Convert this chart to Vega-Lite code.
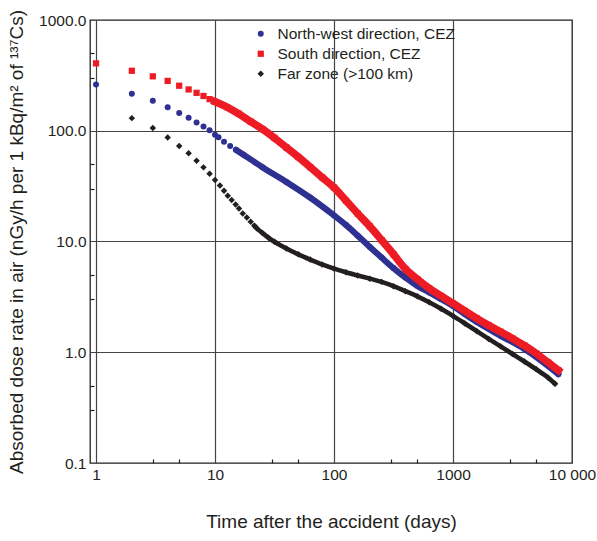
{
  "$schema": "https://vega.github.io/schema/vega-lite/v6.json",
  "width": 482,
  "height": 443,
  "autosize": {"type": "none"},
  "padding": {"left": 90, "top": 20, "right": 25, "bottom": 78},
  "background": "white",
  "config": {
    "font": "Liberation Sans",
    "view": {"stroke": "#231f20", "strokeWidth": 1.3},
    "axis": {
      "labelFont": "Liberation Sans",
      "titleFont": "Liberation Sans",
      "labelColor": "#231f20",
      "titleColor": "#231f20",
      "titleFontWeight": "normal",
      "labelFontSize": 15.5,
      "titleFontSize": 19,
      "domain": false,
      "gridColor": "#444444",
      "gridWidth": 1.2,
      "tickColor": "#231f20",
      "tickWidth": 1.2,
      "labelOverlap": false,
      "labelFlush": false
    }
  },
  "data": {
    "values": [
      {"series": "North-west direction, CEZ", "day": 1, "rate": 262},
      {"series": "North-west direction, CEZ", "day": 2, "rate": 216},
      {"series": "North-west direction, CEZ", "day": 3, "rate": 187},
      {"series": "North-west direction, CEZ", "day": 4, "rate": 163},
      {"series": "North-west direction, CEZ", "day": 5, "rate": 145},
      {"series": "North-west direction, CEZ", "day": 6, "rate": 131},
      {"series": "North-west direction, CEZ", "day": 7, "rate": 119},
      {"series": "North-west direction, CEZ", "day": 8, "rate": 109},
      {"series": "North-west direction, CEZ", "day": 9, "rate": 101},
      {"series": "North-west direction, CEZ", "day": 10, "rate": 92},
      {"series": "North-west direction, CEZ", "day": 10.7, "rate": 87.2},
      {"series": "North-west direction, CEZ", "day": 11.9, "rate": 79.6},
      {"series": "North-west direction, CEZ", "day": 13.4, "rate": 72.8},
      {"series": "North-west direction, CEZ", "day": 15, "rate": 67.2},
      {"series": "North-west direction, CEZ", "day": 17.3, "rate": 61.0},
      {"series": "North-west direction, CEZ", "day": 25.1, "rate": 46.8},
      {"series": "North-west direction, CEZ", "day": 39.8, "rate": 34.5},
      {"series": "North-west direction, CEZ", "day": 63.1, "rate": 24.9},
      {"series": "North-west direction, CEZ", "day": 100, "rate": 17.2},
      {"series": "North-west direction, CEZ", "day": 126, "rate": 14.1},
      {"series": "North-west direction, CEZ", "day": 158, "rate": 11.3},
      {"series": "North-west direction, CEZ", "day": 200, "rate": 8.93},
      {"series": "North-west direction, CEZ", "day": 251, "rate": 7.16},
      {"series": "North-west direction, CEZ", "day": 316, "rate": 5.75},
      {"series": "North-west direction, CEZ", "day": 398, "rate": 4.72},
      {"series": "North-west direction, CEZ", "day": 501, "rate": 3.98},
      {"series": "North-west direction, CEZ", "day": 631, "rate": 3.47},
      {"series": "North-west direction, CEZ", "day": 794, "rate": 3.02},
      {"series": "North-west direction, CEZ", "day": 1000, "rate": 2.62},
      {"series": "North-west direction, CEZ", "day": 1259, "rate": 2.21},
      {"series": "North-west direction, CEZ", "day": 1585, "rate": 1.88},
      {"series": "North-west direction, CEZ", "day": 2512, "rate": 1.41},
      {"series": "North-west direction, CEZ", "day": 3981, "rate": 1.07},
      {"series": "North-west direction, CEZ", "day": 7674, "rate": 0.634},
      {"series": "South direction, CEZ", "day": 1, "rate": 406},
      {"series": "South direction, CEZ", "day": 2, "rate": 348},
      {"series": "South direction, CEZ", "day": 3, "rate": 310},
      {"series": "South direction, CEZ", "day": 4, "rate": 282},
      {"series": "South direction, CEZ", "day": 5, "rate": 255},
      {"series": "South direction, CEZ", "day": 6, "rate": 236},
      {"series": "South direction, CEZ", "day": 7, "rate": 220},
      {"series": "South direction, CEZ", "day": 8, "rate": 206},
      {"series": "South direction, CEZ", "day": 9, "rate": 193},
      {"series": "South direction, CEZ", "day": 10, "rate": 183},
      {"series": "South direction, CEZ", "day": 12.6, "rate": 163.7},
      {"series": "South direction, CEZ", "day": 15.8, "rate": 142.6},
      {"series": "South direction, CEZ", "day": 20, "rate": 120.5},
      {"series": "South direction, CEZ", "day": 25.1, "rate": 103.3},
      {"series": "South direction, CEZ", "day": 31.6, "rate": 86.1},
      {"series": "South direction, CEZ", "day": 39.8, "rate": 70.6},
      {"series": "South direction, CEZ", "day": 50.1, "rate": 57.9},
      {"series": "South direction, CEZ", "day": 63.1, "rate": 47.0},
      {"series": "South direction, CEZ", "day": 79.4, "rate": 38.0},
      {"series": "South direction, CEZ", "day": 100, "rate": 30.7},
      {"series": "South direction, CEZ", "day": 126, "rate": 23.4},
      {"series": "South direction, CEZ", "day": 158, "rate": 17.9},
      {"series": "South direction, CEZ", "day": 200, "rate": 13.7},
      {"series": "South direction, CEZ", "day": 251, "rate": 10.3},
      {"series": "South direction, CEZ", "day": 316, "rate": 7.67},
      {"series": "South direction, CEZ", "day": 398, "rate": 5.65},
      {"series": "South direction, CEZ", "day": 501, "rate": 4.57},
      {"series": "South direction, CEZ", "day": 631, "rate": 3.78},
      {"series": "South direction, CEZ", "day": 794, "rate": 3.23},
      {"series": "South direction, CEZ", "day": 1000, "rate": 2.76},
      {"series": "South direction, CEZ", "day": 1259, "rate": 2.36},
      {"series": "South direction, CEZ", "day": 1585, "rate": 2.02},
      {"series": "South direction, CEZ", "day": 1995, "rate": 1.75},
      {"series": "South direction, CEZ", "day": 2512, "rate": 1.53},
      {"series": "South direction, CEZ", "day": 3162, "rate": 1.33},
      {"series": "South direction, CEZ", "day": 3981, "rate": 1.15},
      {"series": "South direction, CEZ", "day": 5012, "rate": 0.975},
      {"series": "South direction, CEZ", "day": 6310, "rate": 0.807},
      {"series": "South direction, CEZ", "day": 7674, "rate": 0.689},
      {"series": "Far zone (>100 km)", "day": 2, "rate": 130},
      {"series": "Far zone (>100 km)", "day": 3, "rate": 106},
      {"series": "Far zone (>100 km)", "day": 4, "rate": 87},
      {"series": "Far zone (>100 km)", "day": 5, "rate": 73},
      {"series": "Far zone (>100 km)", "day": 6, "rate": 62.5},
      {"series": "Far zone (>100 km)", "day": 7, "rate": 53.6},
      {"series": "Far zone (>100 km)", "day": 8, "rate": 46.7},
      {"series": "Far zone (>100 km)", "day": 9, "rate": 40.9},
      {"series": "Far zone (>100 km)", "day": 10, "rate": 35.9},
      {"series": "Far zone (>100 km)", "day": 11, "rate": 32.1},
      {"series": "Far zone (>100 km)", "day": 11.9, "rate": 28.7},
      {"series": "Far zone (>100 km)", "day": 12.8, "rate": 25.9},
      {"series": "Far zone (>100 km)", "day": 13.8, "rate": 23.7},
      {"series": "Far zone (>100 km)", "day": 14.9, "rate": 21.6},
      {"series": "Far zone (>100 km)", "day": 15.9, "rate": 19.9},
      {"series": "Far zone (>100 km)", "day": 17.1, "rate": 17.9},
      {"series": "Far zone (>100 km)", "day": 18.5, "rate": 16.5},
      {"series": "Far zone (>100 km)", "day": 19.95, "rate": 15.1},
      {"series": "Far zone (>100 km)", "day": 21.4, "rate": 13.9},
      {"series": "Far zone (>100 km)", "day": 22.4, "rate": 13.2},
      {"series": "Far zone (>100 km)", "day": 25.1, "rate": 11.9},
      {"series": "Far zone (>100 km)", "day": 28.2, "rate": 10.8},
      {"series": "Far zone (>100 km)", "day": 31.6, "rate": 9.95},
      {"series": "Far zone (>100 km)", "day": 39.8, "rate": 8.65},
      {"series": "Far zone (>100 km)", "day": 50.1, "rate": 7.66},
      {"series": "Far zone (>100 km)", "day": 63.1, "rate": 6.87},
      {"series": "Far zone (>100 km)", "day": 79.4, "rate": 6.21},
      {"series": "Far zone (>100 km)", "day": 100, "rate": 5.69},
      {"series": "Far zone (>100 km)", "day": 126, "rate": 5.27},
      {"series": "Far zone (>100 km)", "day": 158, "rate": 4.93},
      {"series": "Far zone (>100 km)", "day": 200, "rate": 4.62},
      {"series": "Far zone (>100 km)", "day": 251, "rate": 4.32},
      {"series": "Far zone (>100 km)", "day": 316, "rate": 3.95},
      {"series": "Far zone (>100 km)", "day": 398, "rate": 3.56},
      {"series": "Far zone (>100 km)", "day": 501, "rate": 3.2},
      {"series": "Far zone (>100 km)", "day": 631, "rate": 2.83},
      {"series": "Far zone (>100 km)", "day": 794, "rate": 2.47},
      {"series": "Far zone (>100 km)", "day": 1000, "rate": 2.13},
      {"series": "Far zone (>100 km)", "day": 1259, "rate": 1.82},
      {"series": "Far zone (>100 km)", "day": 1585, "rate": 1.55},
      {"series": "Far zone (>100 km)", "day": 1995, "rate": 1.32},
      {"series": "Far zone (>100 km)", "day": 2512, "rate": 1.13},
      {"series": "Far zone (>100 km)", "day": 3162, "rate": 0.964},
      {"series": "Far zone (>100 km)", "day": 3981, "rate": 0.824},
      {"series": "Far zone (>100 km)", "day": 5012, "rate": 0.701},
      {"series": "Far zone (>100 km)", "day": 6310, "rate": 0.589},
      {"series": "Far zone (>100 km)", "day": 7200, "rate": 0.52}
    ]
  },
  "encoding": {
    "x": {
      "field": "day",
      "type": "quantitative",
      "scale": {"type": "log", "domain": [0.89, 10000], "nice": false},
      "axis": {
        "title": "Time after the accident (days)",
        "values": [1, 3, 5, 10, 30, 50, 100, 300, 500, 1000, 3000, 5000, 10000],
        "labelExpr": "indexof([1,10,100,1000,10000], datum.value) >= 0 ? (datum.value == 10000 ? '10 000' : format(datum.value, 'd')) : ''",
        "grid": true,
        "gridOpacity": {"condition": {"test": "indexof([1,10,100,1000], datum.value) >= 0", "value": 1}, "value": 0},
        "ticks": true,
        "tickSize": -4,
        "tickOpacity": {"condition": {"test": "indexof([1,10,100,1000,10000], datum.value) >= 0", "value": 0}, "value": 1},
        "labelPadding": 8,
        "titlePadding": 30
      }
    },
    "y": {
      "field": "rate",
      "type": "quantitative",
      "scale": {"type": "log", "domain": [0.1, 1000], "nice": false},
      "axis": {
        "title": "Absorbed dose rate in air (nGy/h per 1 kBq/m² of ¹³⁷Cs)",
        "values": [0.1, 0.3, 0.5, 1, 3, 5, 10, 30, 50, 100, 300, 500, 1000],
        "labelExpr": "indexof([0.1,1,10,100,1000], datum.value) >= 0 ? format(datum.value, '.1f') : ''",
        "grid": true,
        "gridOpacity": {"condition": {"test": "indexof([1,10,100], datum.value) >= 0", "value": 1}, "value": 0},
        "ticks": true,
        "tickSize": -4,
        "tickOpacity": {"condition": {"test": "indexof([0.1,1,10,100,1000], datum.value) >= 0", "value": 0}, "value": 1},
        "labelPadding": 8,
        "titlePadding": 12
      }
    }
  },
  "layer": [
    {
      "mark": {"type": "point", "filled": true, "opacity": 1},
      "encoding": {
        "color": {
          "field": "series",
          "type": "nominal",
          "scale": {"domain": ["North-west direction, CEZ", "South direction, CEZ", "Far zone (>100 km)"], "range": ["#2e3192", "#ed1c24", "#231f20"]},
          "legend": {"title": null, "orient": "none", "legendX": 163, "legendY": 6, "labelFontSize": 15.5, "labelFont": "Liberation Sans", "labelColor": "#231f20", "labelLimit": 400, "symbolSize": 34, "rowPadding": 3, "labelOffset": 9, "padding": 0}
        },
        "shape": {
          "field": "series",
          "type": "nominal",
          "scale": {"domain": ["North-west direction, CEZ", "South direction, CEZ", "Far zone (>100 km)"], "range": ["circle", "square", "diamond"]},
          "legend": {"title": null, "orient": "none", "legendX": 163, "legendY": 6, "labelFontSize": 15.5, "labelFont": "Liberation Sans", "labelColor": "#231f20", "labelLimit": 400, "symbolSize": 34, "rowPadding": 3, "labelOffset": 9, "padding": 0}
        },
        "size": {
          "field": "series",
          "type": "nominal",
          "scale": {"domain": ["North-west direction, CEZ", "South direction, CEZ", "Far zone (>100 km)"], "range": [36, 42, 20]},
          "legend": null
        }
      }
    },
    {
      "transform": [{"filter": "datum.series == 'North-west direction, CEZ' && datum.day >= 15"}],
      "mark": {"type": "line", "color": "#2e3192", "strokeWidth": 6.2, "interpolate": "monotone", "strokeCap": "round"},
      "encoding": {}
    },
    {
      "transform": [{"filter": "datum.series == 'Far zone (>100 km)' && datum.day >= 21"}],
      "mark": {"type": "line", "color": "#231f20", "strokeWidth": 4.6, "interpolate": "monotone", "strokeCap": "round"},
      "encoding": {}
    },
    {
      "transform": [{"filter": "datum.series == 'South direction, CEZ' && datum.day >= 10"}],
      "mark": {"type": "line", "color": "#ed1c24", "strokeWidth": 7.6, "interpolate": "monotone", "strokeCap": "square"},
      "encoding": {}
    }
  ]
}
